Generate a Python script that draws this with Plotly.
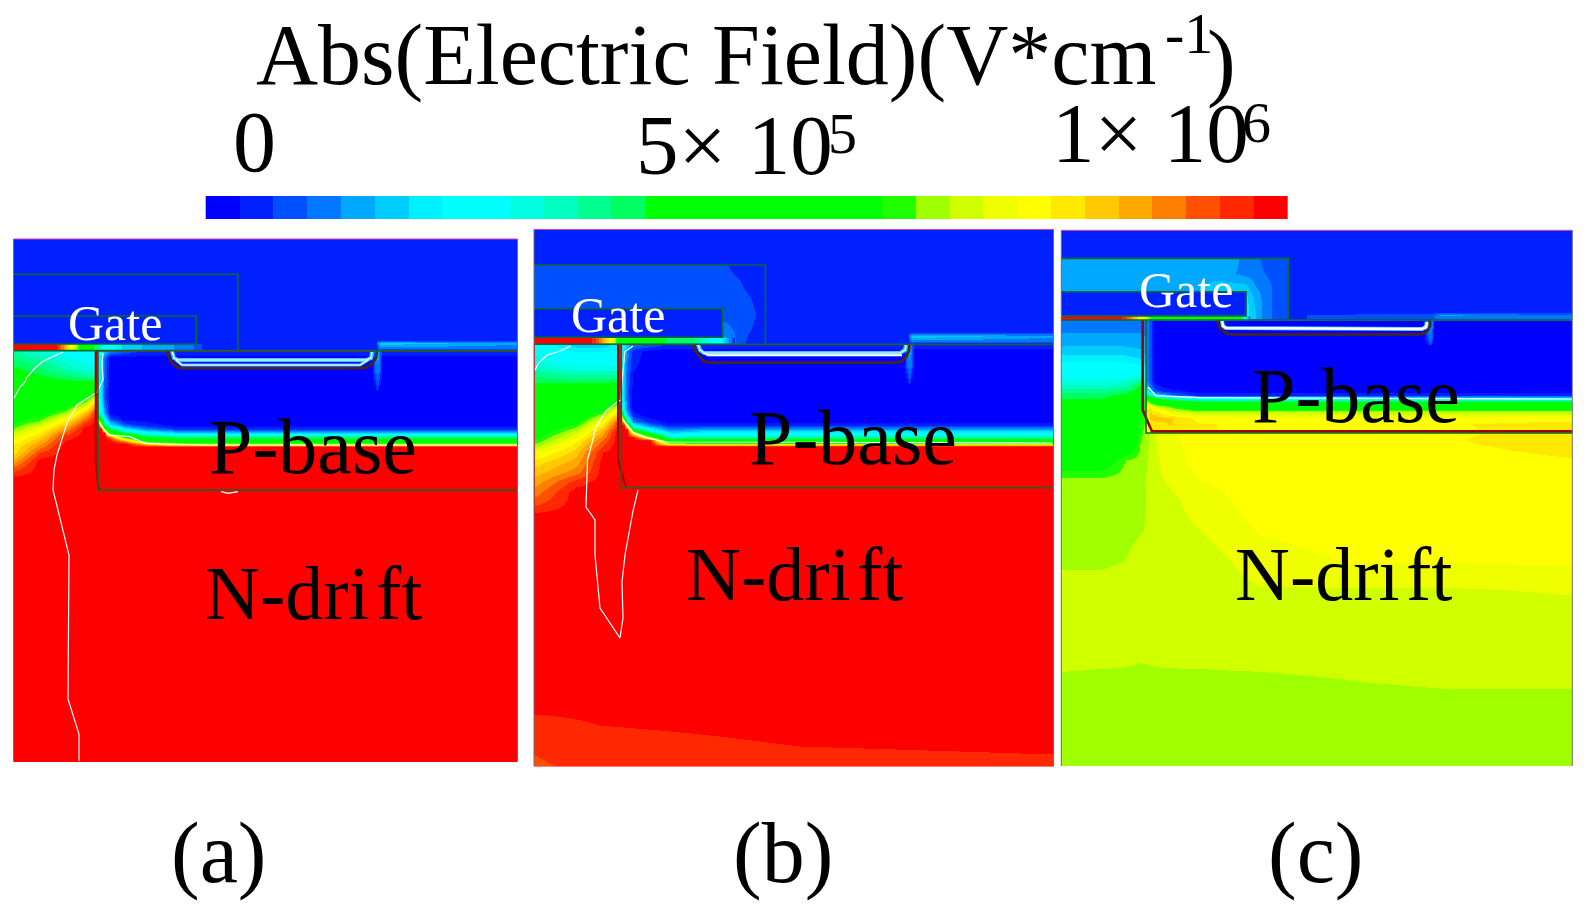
import plotly.graph_objects as go

W, H = 1588, 911
SERIF = "Liberation Serif"

# ---- colour levels of the scale (32 steps)
level_colors = ["#0000ff","#0020ff","#0050ff","#0078ff","#00a8ff","#00ccff","#00f0ff","#00ffff",
                "#00ffff","#00ffe0","#00ffc0","#00ff90","#00ff60","#00ff00","#00ff00","#00ff00",
                "#00ff00","#00ff00","#00ff00","#00ff00","#20ff00","#a0ff00","#d0ff00","#f0ff00",
                "#ffff00","#ffe800","#ffc800","#ffa800","#ff8000","#ff5000","#ff2800","#ff0000"]
colorbar_levels = list(range(32))
colorbar_edges = [205.7 + i * 33.8 for i in range(33)]
colorbar_y = [196, 219]

# ---- panel (a)
a_box_x = [13.5, 517.5]; a_box_y = [239, 761.5]
a_left_x = [14, 40, 65, 85, 96]
a_left_y = [350.6,359,367,375,382,389,397,405,413,421,429,437,445,453,461,469,479,497]
a_left_z = [
 [10.5,9,8,7,7],[11.5,10.5,9,8,7.5],[12.5,11.5,10,9,8.5],[13.5,12.5,11.5,10.5,10],[14,13.5,13,13,13],
 [15,14,14,15,18],[16,15,15.5,18,22],[17,16.5,18,22,27],[18,18.5,21,26,30],[19,20.5,24.5,29,31],
 [20.5,23.5,27.5,31,31],[23,25.5,30,31,31],[24.5,27.5,31,31,31],[25,29.5,31,31,31],[27,31,31,31,31],
 [29,31,31,31,31],[31,31,31,31,31],[31,31,31,31,31]]
a_base_x = [98,101,104,110,125,145,180,517]
a_base_y = [351.6,357.5,397,413,419,424.6,428.5,432.4,436.4,440.4,443.4,446.3,490]
a_base_z = [
 [7,7,5,3,2,1,1,1],[7,6,3,0,0,0,0,0],[7,6,2,0,0,0,0,0],[10,8,4,0,0,0,0,0],[20,14,7,2,0,0,0,0],
 [31,22,12,6,2,1,0,0],[31,31,20,12,6,3,1,1],[31,31,31,18,12,8,5,5],[31,31,31,28,18,13,11,11],
 [31,31,31,31,27,18,15,15],[31,31,31,31,31,26,21,21],[31,31,31,31,31,31,31,31],[31,31,31,31,31,31,31,31]]
a_strip_x = [14,55,62,70,78,90,105,125,190,205]
a_strip_y = [344,350]
a_strip_z = [[31,31,28,24,20,14,8,5,3,1]]*2
a_fringe_x = [377,380,517]; a_fringe_y = [340,343,346,349.7]
a_fringe_z = [[1,1,1],[3,5,4],[2,4,3],[1,2,2]]
a_drip_x = [372,375,377,379,382]; a_drip_y = [351,368,390]
a_drip_z = [[1,3,5,3,1],[0,3,3,3,0],[0,0,2,0,0]]
a_gate_outer_x = [13.5,238,238]; a_gate_outer_y = [274.3,274.3,350.6]
a_gate_inner_x = [13.5,196.4,196.4,13.5]; a_gate_inner_y = [316,316,344,344]
a_main_x = [13.5,517.5]; a_main_y = [350.6,350.6]
a_pbase_x = [98,98,517.5]; a_pbase_y = [350.6,490,490]
a_red_x = [95.7,95.7,98,100]; a_red_y = [350.6,461,486,490]
a_well_x = [167,169,173,178,183,358,366,372,376,377]
a_well_y = [350.6,358,364,367.5,368.3,368.3,367.5,364,358,350.6]
a_well_in1_x = [172,174,178,366,371,372]; a_well_in1_y = [351,358,360,360,358,352]
a_well_in2_x = [176,182,360,368]; a_well_in2_y = [360,365,365,360]
a_white1_x = [14,20,25,27,35,42,52,63]; a_white1_y = [398,387,382,377,368,362,357,352]
a_white2_x = [103,102,103,97,77,67,57,54,53,57.5,69,68,79,79]
a_white2_y = [353,363,380,392,405,423,455,470,490,508,555,699,734,761]
a_white3_x = [101,108,130,145,206,517]; a_white3_y = [425,435,436.7,443.3,445,445]
a_white4_x = [221,228,238]; a_white4_y = [491.7,493.3,491.7]

# ---- panel (b)
b_box_x = [534, 1053.5]; b_box_y = [229.5, 766]
b_left_x = [535,576,603,617]
b_left_y = [345,354,363,372.6,382.5,392.5,402.5,412.3,422.2,432,442,452,462,472,482,491.7,501.6,516.5]
b_left_z = [
 [8,5,5,6],[8.5,7,7,7],[9,8,8,8],[11,10,10,10],[12.5,12.5,12.5,13],[14,14,14.5,15],[15,15.5,17,19.5],
 [16,17,20,25],[17,19,24,29],[18,22,27,31],[20,24.5,29,31],[23,26,30.5,31],[25,27,31,31],[26,28,31,31],
 [27,30,31,31],[28,31,31,31],[29,31,31,31],[31,31,31,31]]
b_base_x = [621,624,627,633,650,670,700,1053]
b_base_y = [345.2,351.1,392.5,409.3,415.2,421.1,425.1,429,433,436.9,439.9,442.8,445.8,488.2]
b_base_z = [
 [7,7,5,3,2,1,1,1],[7,5,3,1,0,0,0,0],[7,5,2,0,0,0,0,0],[9,6,3,0,0,0,0,0],[24,10,5,1,0,0,0,0],
 [31,24,10,3,1,0,0,0],[31,31,20,7,3,1,1,1],[31,31,31,14,7,3,4,4],[31,31,31,24,13,6,7,7],
 [31,31,31,31,22,10,11,11],[31,31,31,31,31,14,15,15],[31,31,31,31,31,21,20,20],
 [31,31,31,31,31,31,31,31],[31,31,31,31,31,31,31,31]]
b_gate_x = [534,700,725,740,750,757,765]
b_gate_y = [265,284,299,313.5,328.5,343.5]
b_gate_z = [[2,2,1.6,1,1,1,1],[2,2,2,1.6,1,1,1],[2,2,2,2,1.6,1,1],[2,2,2,2,2,1.4,1],[2,2,3,2,1.6,1,1],[2,3,4,2,1,1,1]]
b_strip_x = [534,590,600,610,620,640,690,720,735]
b_strip_y = [337.7,343.7]
b_strip_z = [[31,31,28,24,18,13,12,7,1]]*2
b_bottom_x = [534,600,800,1053]; b_bottom_y = [706,722,742,766]
b_bottom_z = [[31,31,31,31],[30,30.6,31,31],[29.6,30,30.6,30.8],[29.4,29.7,30,30.2]]
b_fringe_x = [909,912,1053]; b_fringe_y = [332,335.5,338.5,343.4]
b_fringe_z = [[1,1,1],[3,5,4],[2,4,3],[1,2,2]]
b_drip_x = [904,907,909,911,914]; b_drip_y = [344.5,363,383]
b_drip_z = [[1,3,5,3,1],[0,3,3,3,0],[0,0,2,0,0]]
b_gate_outer_x = [534,765.4,765.4]; b_gate_outer_y = [265,265,344.2]
b_gate_inner_x = [534,722.4,722.4,534]; b_gate_inner_y = [308.7,308.7,337.3,337.3]
b_main_x = [534,1053.5]; b_main_y = [344.2,344.2]
b_pbase_x = [621.3,621.3,1053.5]; b_pbase_y = [344.2,487.7,487.7]
b_red_x = [618,618,622,626]; b_red_y = [344.2,460,474,487]
b_well_x = [693,695,699,704,709,895,902,906,909,909.4]
b_well_y = [344.2,350,356,361,362.7,362.7,361,357,351,344.2]
b_well_in1_x = [698,700,704,900,905,906]; b_well_in1_y = [344.4,350,353,353,350,345]
b_well_in2_x = [704,708,902]; b_well_in2_y = [353,355.1,355.1]
b_white1_x = [535,538.5,547,559,570.6]; b_white1_y = [370,363,355,351.5,346]
b_white2_x = [633,625,622,621,616,606,596,587.5,586,595,595,600,620,623,622,625,633,638]
b_white2_y = [346,351.5,380,400,403,411,427,460,507,520,555,608,638,618,582,555,511,490]
b_white3_x = [623,633,647,667,1052]; b_white3_y = [420,432,438,442,443]

# ---- panel (c)
c_box_x = [1061.3, 1572.3]; c_box_y = [230.3, 766]
c_low_x = [1061,1100,1125,1140,1160,1200,1260,1350,1450,1572]
c_low_y = [320,335,345,355,365,375,385,395,405,420,440,460,480,500,530,560,590,620,650,680,710,766]
c_low_z = [
 [3,3,3,3,3,3,3,3,3,3],[3.6,3.6,3.6,3.6,3,3,3,3,3,3],[4.4,4.4,4.4,4.2,3,3,3,3,3,3],[5.5,5.5,5.5,5,3,3,3,3,3,3],
 [7,7,7,6.5,3,3,3,3,3,3],[8,8,8,8.5,3,3,3,3,3,3],[9.5,9.5,10,12.5,3,3,3,3,3,3],[12,12,13,14,3,3,3,3,3,3],
 [13.5,13.5,14,16,3,3,3,3,3,3],[14,14,15,19.6,23.5,24,24,24,24.2,24.6],[15,15,16,20.4,23,24,24,24,24.4,25.2],
 [18,18,20.5,20.9,22.6,24,24,24,24,24.4],[20.8,20.8,21,21.2,22.4,23.5,24,24,24,24],[21,21,21,21.3,22,23,24,24,24,24],
 [21,21,21.2,21.4,22,22.5,23.6,24,24,24],[21.3,21.3,21.5,22,22,22,23,23.6,23.6,23.7],[21.9,21.9,22,22,22,22,22.4,22.4,22.4,22.6],
 [22,22,22,22,22,22,22,22,22,22],[22,22,21.9,21.7,21.9,22,22,22,22,22],[21.3,21.2,21.2,21.2,21.2,21.2,21.3,21.5,21.7,21.7],
 [21,21,21,21,21,21,21,21,21,21],[21,21,21,21,21,21,21,21,21,21]]
c_base_x = [1146,1150,1155,1170,1200,1300,1450,1572]
c_base_y = [321,380,387,391,395,398,401.6,406.4,412.3,418,424,433]
c_base_z = [
 [3,2,0,0,0,0,0,0],[3,2,0,0,0,0,0,0],[5,3,1,0,0,0,0,0],[7,5,2,1,0,0,0,0],[13,10,6,3,1,1,1,1],
 [20,16,13,10,7,6,6,6],[22,20,17,15,14,14,14,14],[24,24,22,20,16,16,16,16],[25,25.6,25,23,21.6,21.6,21.6,21.6],
 [25,25.6,26,25.6,24,23.6,23.8,24],[24.4,25,25,25.6,24.6,24,24.4,25],[24,24.4,24.4,24.6,24.6,24,24.2,25.4]]
c_gate_x = [1061,1190,1215,1232,1245,1255,1265,1278,1288]
c_gate_y = [258.4,273,287.5,297.4,309,319]
c_gate_z = [[4,4,4,4,3,3,2,2,1.5],[4,4,4,3.6,3.2,3,2.5,2,1.5],[4,4,5,5,5,3.6,3,2,1.5],
            [4,4,5,6,6,4.2,3,2,1.5],[4,5,5.5,7,6,4.5,3,2,1.5],[5,5,5.5,8,6.5,4.5,3,2,1.5]]
c_strip_x = [1061,1120,1130,1140,1150,1165,1240,1250]
c_strip_y = [316.2,320]
c_strip_z = [[31,31,28,24,20,15,14,1]]*2
c_fringe_x = [1290,1310,1430,1440,1572]; c_fringe_y = [312,315,318,320]
c_fringe_z = [[1,1,1,1,1],[1,1.6,2,3.6,3],[1,1.6,2,3,3],[1,1,1,2,2]]
c_drip_x = [1424,1427,1430,1432,1434]; c_drip_y = [320,337,345]
c_drip_z = [[1,3,4,3,1],[0,2,3,2,0],[0,0,2,0,0]]
c_gate_outer_x = [1061.3,1288.5,1288.5]; c_gate_outer_y = [258.4,258.4,320]
c_gate_inner_x = [1061.3,1246,1246,1061.3]; c_gate_inner_y = [291.7,291.7,316,316]
c_main_x = [1061.3,1572.3]; c_main_y = [320,320]
c_pbase_x = [1146,1146,1572.3]; c_pbase_y = [320,433,433]
c_red_x = [1142.7,1142.7,1147,1152,1572.3]; c_red_y = [320,410,420,431.4,431.4]
c_well_x = [1217,1219,1223,1228,1233,1418,1425,1428,1430,1430]
c_well_y = [320,326,331,334,334.5,334.5,333,330,326,320]
c_well_in1_x = [1222,1223,1226,1422,1426,1427]; c_well_in1_y = [321,326,328,329,327,322]
c_white3_x = [1148,1156,1201,1572]; c_white3_y = [387,395.7,397.7,399]
c_white4_x = [1149,1150]; c_white4_y = [420,431]

# ---- texts
title_text = "Abs(Electric Field)(V*cm"; title_sup = "-1"; title_end = ")"
scale_texts = ["0", "5× 10", "1× 10"]; scale_sups = ["5", "6"]
gate_label = "Gate"; pbase_label = "P-base"; ndrift_label = "N-dri\u200aft"
panel_labels = ["(a)", "(b)", "(c)"]

# ---- colour scale: one flat band for every level
n = len(level_colors)
scale = []
for i, col in enumerate(level_colors):
    scale += [[i / n, col], [(i + 1) / n, col]]

fig = go.Figure()
common = dict(colorscale=scale, zmin=-0.5, zmax=n - 0.5, showscale=False, hoverinfo="skip")

def pad(v):
    return [v[0], v[0] + 0.01] + list(v[1:-1]) + [v[-1] - 0.01, v[-1]]

def field(x, y, z):
    rows = [[r[0], r[0]] + list(r[1:-1]) + [r[-1], r[-1]] for r in z]
    rows = [rows[0], rows[0]] + rows[1:-1] + [rows[-1], rows[-1]]
    fig.add_trace(go.Heatmap(x=pad(x), y=pad(y), z=rows, zsmooth="best", **common))

def flat(x, y, level):
    fig.add_trace(go.Heatmap(x=x, y=y, z=[[level]], zsmooth=False, **common))

def line(x, y, color, width, dash=None):
    fig.add_trace(go.Scatter(x=x, y=y, mode="lines", hoverinfo="skip", showlegend=False,
                             line=dict(color=color, width=width, dash=dash, simplify=False)))

DG = "#0b6a2c"; DR = "#a00000"; WH = "#ffffff"; CY = "#40c8ff"

# colour bar
fig.add_trace(go.Heatmap(x=colorbar_edges, y=colorbar_y, z=[colorbar_levels], zsmooth=False, **common))

# panel (a)
flat(a_box_x, a_box_y, 31)
flat(a_box_x, [a_box_y[0], a_main_y[0]], 1)
field(a_left_x, a_left_y, a_left_z)
field(a_base_x, a_base_y, a_base_z)
field(a_strip_x, a_strip_y, a_strip_z)
field(a_fringe_x, a_fringe_y, a_fringe_z)
field(a_drip_x, a_drip_y, a_drip_z)
# panel (b)
flat(b_box_x, b_box_y, 31)
flat(b_box_x, [b_box_y[0], b_main_y[0]], 1)
field(b_gate_x, b_gate_y, b_gate_z)
flat(b_gate_inner_x[:2], [b_gate_inner_y[0], b_gate_inner_y[2]], 1)
field(b_left_x, b_left_y, b_left_z)
field(b_base_x, b_base_y, b_base_z)
field(b_bottom_x, b_bottom_y, b_bottom_z)
field(b_strip_x, b_strip_y, b_strip_z)
field(b_fringe_x, b_fringe_y, b_fringe_z)
field(b_drip_x, b_drip_y, b_drip_z)
# panel (c)
flat(c_box_x, [c_box_y[0], c_main_y[0]], 1)
field(c_low_x, c_low_y, c_low_z)
field(c_base_x, c_base_y, c_base_z)
field(c_gate_x, c_gate_y, c_gate_z)
flat(c_gate_inner_x[:2], [c_gate_inner_y[0], c_gate_inner_y[2]], 1)
field(c_strip_x, c_strip_y, c_strip_z)
field(c_fringe_x, c_fringe_y, c_fringe_z)
field(c_drip_x, c_drip_y, c_drip_z)

# white contour lines
for x, y in [(a_white1_x, a_white1_y), (a_white2_x, a_white2_y), (a_white3_x, a_white3_y), (a_white4_x, a_white4_y),
             (b_white1_x, b_white1_y), (b_white2_x, b_white2_y), (b_white3_x, b_white3_y),
             (c_white3_x, c_white3_y), (c_white4_x, c_white4_y)]:
    line(x, y, WH, 1.2)

# wells
line(a_well_in1_x, a_well_in1_y, CY, 4); line(a_well_in2_x, a_well_in2_y, CY, 3)
line(a_well_in1_x, a_well_in1_y, WH, 1.2); line(a_well_in2_x, a_well_in2_y, WH, 1.2)
line(b_well_in1_x, b_well_in1_y, CY, 4); line(b_well_in2_x, b_well_in2_y, CY, 3)
line(b_well_in1_x, b_well_in1_y, WH, 1.2); line(b_well_in2_x, b_well_in2_y, WH, 1.8)
line(c_well_in1_x, c_well_in1_y, CY, 4); line(c_well_in1_x, c_well_in1_y, WH, 2.6)
line(a_well_x, a_well_y, DR, 2.6); line(a_well_x, a_well_y, "#104020", 1.4)
line(b_well_x, b_well_y, DR, 2.6); line(b_well_x, b_well_y, "#104020", 1.4)
line(c_well_x, c_well_y, DR, 2.6); line(c_well_x, c_well_y, "#104020", 1.4)

# red and green structure lines
for x, y in [(a_red_x, a_red_y), (b_red_x, b_red_y)]:
    line(x, y, DR, 2)
line(c_red_x, c_red_y, DR, 2.6)
for x, y in [(a_gate_outer_x, a_gate_outer_y), (a_gate_inner_x, a_gate_inner_y), (a_main_x, a_main_y), (a_pbase_x, a_pbase_y),
             (b_gate_outer_x, b_gate_outer_y), (b_gate_inner_x, b_gate_inner_y), (b_main_x, b_main_y), (b_pbase_x, b_pbase_y),
             (c_gate_outer_x, c_gate_outer_y), (c_gate_inner_x, c_gate_inner_y), (c_main_x, c_main_y), (c_pbase_x, c_pbase_y)]:
    line(x, y, DG, 1.6)

# panel frames
for bx, by in [(a_box_x, a_box_y), (b_box_x, b_box_y), (c_box_x, c_box_y)]:
    line([bx[0], bx[0]], by, "#707070", 1)
    line([bx[1], bx[1]], by, "#707070", 1)
    line(bx, [by[0], by[0]], "#e040b0", 1)

def text(s, x, y, size, color="black"):
    fig.add_annotation(x=x, y=y, text=s, showarrow=False, xanchor="left", yanchor="middle",
                       font=dict(family=SERIF, size=size, color=color), borderpad=0, borderwidth=0)

text(title_text, 256, 55, 86)
text(title_sup, 1165, 33, 58)
text(title_end, 1207, 61, 86)
text(scale_texts[0], 233, 142, 86)
text(scale_texts[1], 636, 145, 85)
text(scale_sups[0], 828, 133, 58)
text(scale_texts[2], 1052, 133, 85)
text(scale_sups[1], 1242, 122, 58)
text(gate_label, 68, 323, 50, "white")
text(gate_label, 571, 315, 50, "white")
text(gate_label, 1139, 290, 50, "white")
text(pbase_label, 209, 446, 78)
text(pbase_label, 749, 437, 78)
text(pbase_label, 1252, 395, 78)
text(ndrift_label, 205, 593, 76)
text(ndrift_label, 686, 574, 76)
text(ndrift_label, 1235, 574, 76)
text(panel_labels[0], 171, 853, 86)
text(panel_labels[1], 733, 853, 86)
text(panel_labels[2], 1268, 853, 86)

fig.update_layout(width=W, height=H, margin=dict(l=0, r=0, t=0, b=0), showlegend=False,
                  paper_bgcolor="white", plot_bgcolor="white",
                  xaxis=dict(range=[0, W], visible=False, fixedrange=True),
                  yaxis=dict(range=[H, 0], visible=False, fixedrange=True))
fig.write_html("out.html", config=dict(displayModeBar=False),
               post_script="document.body.style.margin='0';document.body.style.overflow='hidden';")
